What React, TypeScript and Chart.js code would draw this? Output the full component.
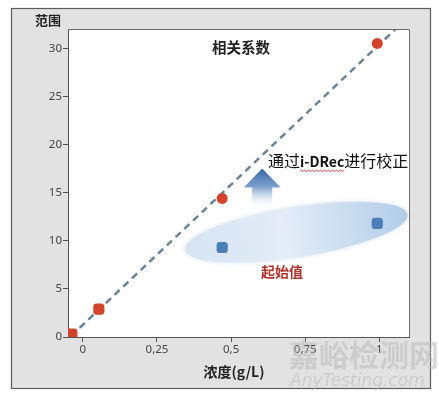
import React, { useEffect, useRef } from "react";
import { Chart, registerables } from "chart.js";
Chart.register(...registerables);

// ---- data ----
const xTicks = [0, 0.25, 0.5, 0.75, 1];
const xTickLabels = ["0", "0,25", "0,5", "0,75", "1"];
const yTicks = [0, 5, 10, 15, 20, 25, 30];
const fitLineX = [-0.04, 1.055];
const fitLineY = [0.1, 32];
const redSquareX = [-0.037, 0.054];
const redSquareY = [0.3, 2.9];
const redCircleX = [0.47, 0.993];
const redCircleY = [14.4, 30.5];
const blueSquareX = [0.47, 0.993];
const blueSquareY = [9.3, 11.8];
// annotations (data units)
const ellipseCenter = [0.72, 10.9];
const ellipseHalfWidth = 0.38;
const ellipseHalfHeight = 2.6;
const arrowX = 0.605;
const arrowY = [13.3, 17.5];

const toPts = (xs: number[], ys: number[]) => xs.map((x, i) => ({ x, y: ys[i] }));

const CJK = '"Noto Sans CJK SC", "Noto Sans", sans-serif';

const decorPlugin = {
  id: "decor",
  beforeDraw(chart: any) {
    const { ctx, chartArea: a } = chart;
    ctx.save();
    ctx.fillStyle = "#ffffff";
    ctx.fillRect(0, 0, chart.width, chart.height);
    ctx.fillStyle = "#e1e2e1";
    ctx.fillRect(11, 8, 420, 381);
    ctx.strokeStyle = "#5c5c5c";
    ctx.lineWidth = 1.2;
    ctx.strokeRect(11.5, 8.5, 419, 380);
    ctx.fillStyle = "#ffffff";
    ctx.fillRect(a.left, a.top, a.right - a.left, a.bottom - a.top);
    ctx.restore();
  },
  beforeDatasetsDraw(chart: any) {
    const { ctx, scales } = chart;
    const xs = scales.x, ys = scales.y;
    ctx.save();
    // ellipse
    const cx = xs.getPixelForValue(ellipseCenter[0]);
    const cy = ys.getPixelForValue(ellipseCenter[1]);
    const rx = xs.getPixelForValue(ellipseCenter[0] + ellipseHalfWidth) - cx;
    const ry = cy - ys.getPixelForValue(ellipseCenter[1] + ellipseHalfHeight);
    ctx.translate(cx, cy);
    ctx.rotate((-9 * Math.PI) / 180);
    const g = ctx.createLinearGradient(-rx, 0, rx, 0);
    g.addColorStop(0, "rgba(214,228,243,0.9)");
    g.addColorStop(0.45, "rgba(228,237,247,0.95)");
    g.addColorStop(1, "rgba(176,203,231,0.95)");
    ctx.shadowColor = "rgba(200,218,238,0.8)";
    ctx.shadowBlur = 5;
    ctx.beginPath();
    ctx.ellipse(0, 0, rx, ry, 0, 0, Math.PI * 2);
    ctx.fillStyle = g;
    ctx.fill();
    ctx.restore();

    // arrow
    ctx.save();
    const ax = xs.getPixelForValue(arrowX);
    const yb = ys.getPixelForValue(arrowY[0]);
    const yt = ys.getPixelForValue(arrowY[1]);
    const headH = 19, headW = 18.5, shaftW = 10;
    const ag = ctx.createLinearGradient(0, yt, 0, yb);
    ag.addColorStop(0, "rgba(52,100,160,1)");
    ag.addColorStop(0.45, "rgba(110,150,200,0.9)");
    ag.addColorStop(1, "rgba(255,255,255,0)");
    ctx.fillStyle = ag;
    ctx.beginPath();
    ctx.moveTo(ax, yt);
    ctx.lineTo(ax + headW, yt + headH);
    ctx.lineTo(ax + shaftW, yt + headH);
    ctx.lineTo(ax + shaftW, yb);
    ctx.lineTo(ax - shaftW, yb);
    ctx.lineTo(ax - shaftW, yt + headH);
    ctx.lineTo(ax - headW, yt + headH);
    ctx.closePath();
    ctx.fill();
    ctx.restore();
  },
  afterDraw(chart: any) {
    const { ctx, chartArea: a } = chart;
    ctx.save();
    // plot border top/right
    ctx.strokeStyle = "#6a6a6a";
    ctx.lineWidth = 1;
    ctx.beginPath();
    ctx.moveTo(a.left, a.top + 0.5);
    ctx.lineTo(a.right + 0.5, a.top + 0.5);
    ctx.lineTo(a.right + 0.5, a.bottom);
    ctx.stroke();

    ctx.textBaseline = "middle";
    // y title
    ctx.fillStyle = "#222";
    ctx.font = `bold 13px ${CJK}`;
    ctx.textAlign = "left";
    ctx.fillText("范围", 35, 20);

    // x title
    ctx.font = `bold 14px ${CJK}`;
    ctx.textAlign = "center";
    ctx.fillStyle = "#222";
    ctx.fillText("浓度(g/L)", 234, 372);

    // 相关系数
    ctx.font = `600 14.5px ${CJK}`;
    ctx.textAlign = "center";
    ctx.fillStyle = "#222";
    ctx.fillText("相关系数", 241, 47);

    // 通过i-DRec进行校正
    ctx.textAlign = "left";
    let x = 268;
    const y = 161;
    ctx.fillStyle = "#111";
    ctx.font = `16px ${CJK}`;
    ctx.fillText("通过", x, y);
    x += ctx.measureText("通过").width;
    ctx.font = `bold 14px ${CJK}`;
    const w = ctx.measureText("i-DRec").width;
    ctx.fillText("i-DRec", x, y + 1);
    // wavy underline
    ctx.strokeStyle = "#d04040";
    ctx.lineWidth = 0.8;
    ctx.beginPath();
    for (let i = 0; i <= w; i += 1) {
      const yy = y + 9 + (i % 4 < 2 ? 0 : 1.5);
      if (i === 0) ctx.moveTo(x + i, yy);
      else ctx.lineTo(x + i, yy);
    }
    ctx.stroke();
    x += w;
    ctx.font = `16px ${CJK}`;
    ctx.fillText("进行校正", x, y);

    // 起始值
    ctx.font = `bold 14px ${CJK}`;
    ctx.fillStyle = "#b3332b";
    ctx.textAlign = "center";
    ctx.fillText("起始值", 282, 272);

    // watermark
    ctx.fillStyle = "rgba(185,185,185,0.55)";
    ctx.font = `bold 30px ${CJK}`;
    ctx.textAlign = "left";
    ctx.fillText("嘉峪检测网", 289, 355);
    ctx.font = `italic 17px "DejaVu Sans", sans-serif`;
    ctx.fillText("AnyTesting.com", 290, 382);
    ctx.restore();
  },
};

export default function App() {
  const ref = useRef<HTMLCanvasElement | null>(null);
  useEffect(() => {
    if (!ref.current) return;
    const chart = new Chart(ref.current, {
      type: "scatter",
      data: {
        datasets: [
          {
            label: "fit",
            data: toPts(fitLineX, fitLineY),
            showLine: true,
            borderColor: "#6a8396",
            borderWidth: 2.5,
            borderDash: [7, 5],
            pointRadius: 0,
            order: 5,
          },
          {
            label: "red squares",
            data: toPts(redSquareX, redSquareY),
            pointStyle: "rectRounded",
            pointRadius: 6.5,
            backgroundColor: "#d2432b",
            borderColor: "#d2432b",
            borderWidth: 0,
            order: 1,
          },
          {
            label: "red circles",
            data: toPts(redCircleX, redCircleY),
            pointStyle: "circle",
            pointRadius: 5.5,
            backgroundColor: "#d2432b",
            borderColor: "#d2432b",
            borderWidth: 0,
            order: 1,
          },
          {
            label: "blue squares",
            data: toPts(blueSquareX, blueSquareY),
            pointStyle: "rectRounded",
            pointRadius: 6.5,
            backgroundColor: "#4b7fb9",
            borderColor: "#4b7fb9",
            borderWidth: 0,
            order: 1,
          },
        ],
      },
      options: {
        responsive: false,
        animation: false,
        layout: { padding: { left: 28, right: 30, top: 29, bottom: 32 } },
        plugins: { legend: { display: false }, tooltip: { enabled: false } },
        scales: {
          x: {
            type: "linear",
            min: -0.05,
            max: 1.1,
            afterBuildTicks: (s: any) => {
              s.ticks = xTicks.map((v) => ({ value: v }));
            },
            afterFit: (s: any) => {
              s.height = 30;
            },
            ticks: {
              callback: (v: any) => {
                const i = xTicks.indexOf(Number(v));
                return i >= 0 ? xTickLabels[i] : "";
              },
              color: "#444",
              font: { size: 11.5, family: '"Noto Sans", sans-serif' },
              padding: 1,
              maxRotation: 0,
            },
            grid: { drawOnChartArea: false, tickLength: 5, color: "#555" },
            border: { display: true, color: "#555", width: 1 },
          },
          y: {
            type: "linear",
            min: 0,
            max: 32,
            afterBuildTicks: (s: any) => {
              s.ticks = yTicks.map((v) => ({ value: v }));
            },
            afterFit: (s: any) => {
              s.width = 40;
            },
            ticks: {
              color: "#444",
              font: { size: 11.5, family: '"Noto Sans", sans-serif' },
              padding: 1,
            },
            grid: { drawOnChartArea: false, tickLength: 5, color: "#555" },
            border: { display: true, color: "#555", width: 1 },
          },
        },
      },
      plugins: [decorPlugin],
    } as any);
    return () => chart.destroy();
  }, []);
  return (
    <div style={{ position: "absolute", left: 0, top: 0, width: 439, height: 399 }}>
      <canvas ref={ref} width={439} height={399} style={{ display: "block" }} />
    </div>
  );
}
